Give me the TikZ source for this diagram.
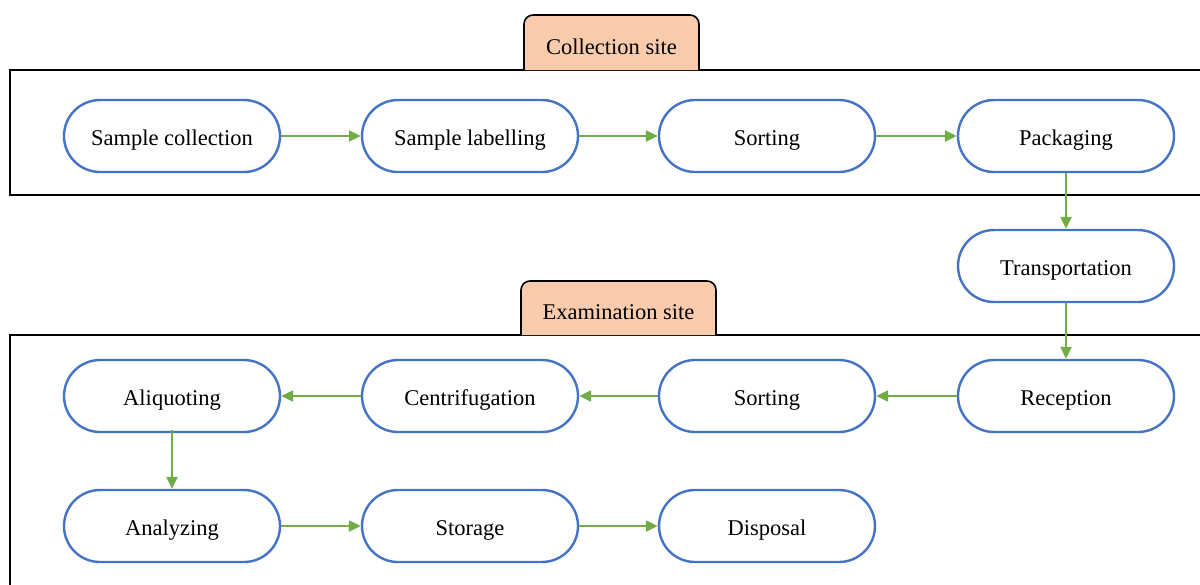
\documentclass[tikz,border=0pt]{standalone}
\usepackage{fontspec}
\setmainfont{Liberation Serif}
\usetikzlibrary{shapes.misc,arrows.meta}
\definecolor{nodeblue}{HTML}{4472C4}
\definecolor{arrgreen}{HTML}{70AD47}
\definecolor{tabfill}{HTML}{F8CBAD}
\begin{document}
\begin{tikzpicture}[x=1pt,y=-1pt,
  proc/.style={rounded rectangle, draw=nodeblue, line width=2.4pt, minimum width=216pt, minimum height=72pt, inner sep=0pt, font=\fontsize{22.5}{26}\selectfont, text height=18pt, text depth=0pt, fill=white},
  flow/.style={draw=arrgreen, line width=2.3pt, -{Triangle[length=12pt,width=11pt]}},
  frame/.style={draw=black, line width=1.6pt},
  tab/.style={draw=black, line width=1.6pt, fill=tabfill, rounded corners=9pt},
  tablabel/.style={font=\fontsize{22.5}{26}\selectfont, inner sep=0pt, text height=18pt, text depth=0pt}]
\useasboundingbox (0,0) rectangle (1200,584);
\clip (0,0) rectangle (1200,584);
% frames
\draw[frame] (1210,70) -- (10,70) -- (10,195) -- (1210,195);
\draw[frame] (1210,335) -- (10,335) -- (10,600);
% tabs
\draw[tab] (524,70) -- (524,15) -- (699,15) -- (699,70);
\node[tablabel] (t1) at (611.5,45) {Collection site};
\draw[tab] (521,335) -- (521,281) -- (716,281) -- (716,335);
\node[tablabel] (t2) at (618.5,310) {Examination site};
% nodes
\node[proc] (a1) at (172,136) {Sample collection};
\node[proc] (a2) at (470,136) {Sample labelling};
\node[proc] (a3) at (767,136) {Sorting};
\node[proc] (a4) at (1066,136) {Packaging};
\node[proc] (tr) at (1066,266) {Transportation};
\node[proc] (b1) at (1066,396) {Reception};
\node[proc] (b2) at (767,396) {Sorting};
\node[proc] (b3) at (470,396) {Centrifugation};
\node[proc] (b4) at (172,396) {Aliquoting};
\node[proc] (c1) at (172,526) {Analyzing};
\node[proc] (c2) at (470,526) {Storage};
\node[proc] (c3) at (767,526) {Disposal};
% connectors
\draw[flow] (a1.east) -- (a2.west);
\draw[flow] (a2.east) -- (a3.west);
\draw[flow] (a3.east) -- (a4.west);
\draw[flow] (a4.south) -- (tr.north);
\draw[flow] (tr.south) -- (b1.north);
\draw[flow] (b1.west) -- (b2.east);
\draw[flow] (b2.west) -- (b3.east);
\draw[flow] (b3.west) -- (b4.east);
\draw[flow] ([yshift=3pt]b4.south) -- (c1.north);
\draw[flow] (c1.east) -- (c2.west);
\draw[flow] (c2.east) -- (c3.west);
\end{tikzpicture}
\end{document}
